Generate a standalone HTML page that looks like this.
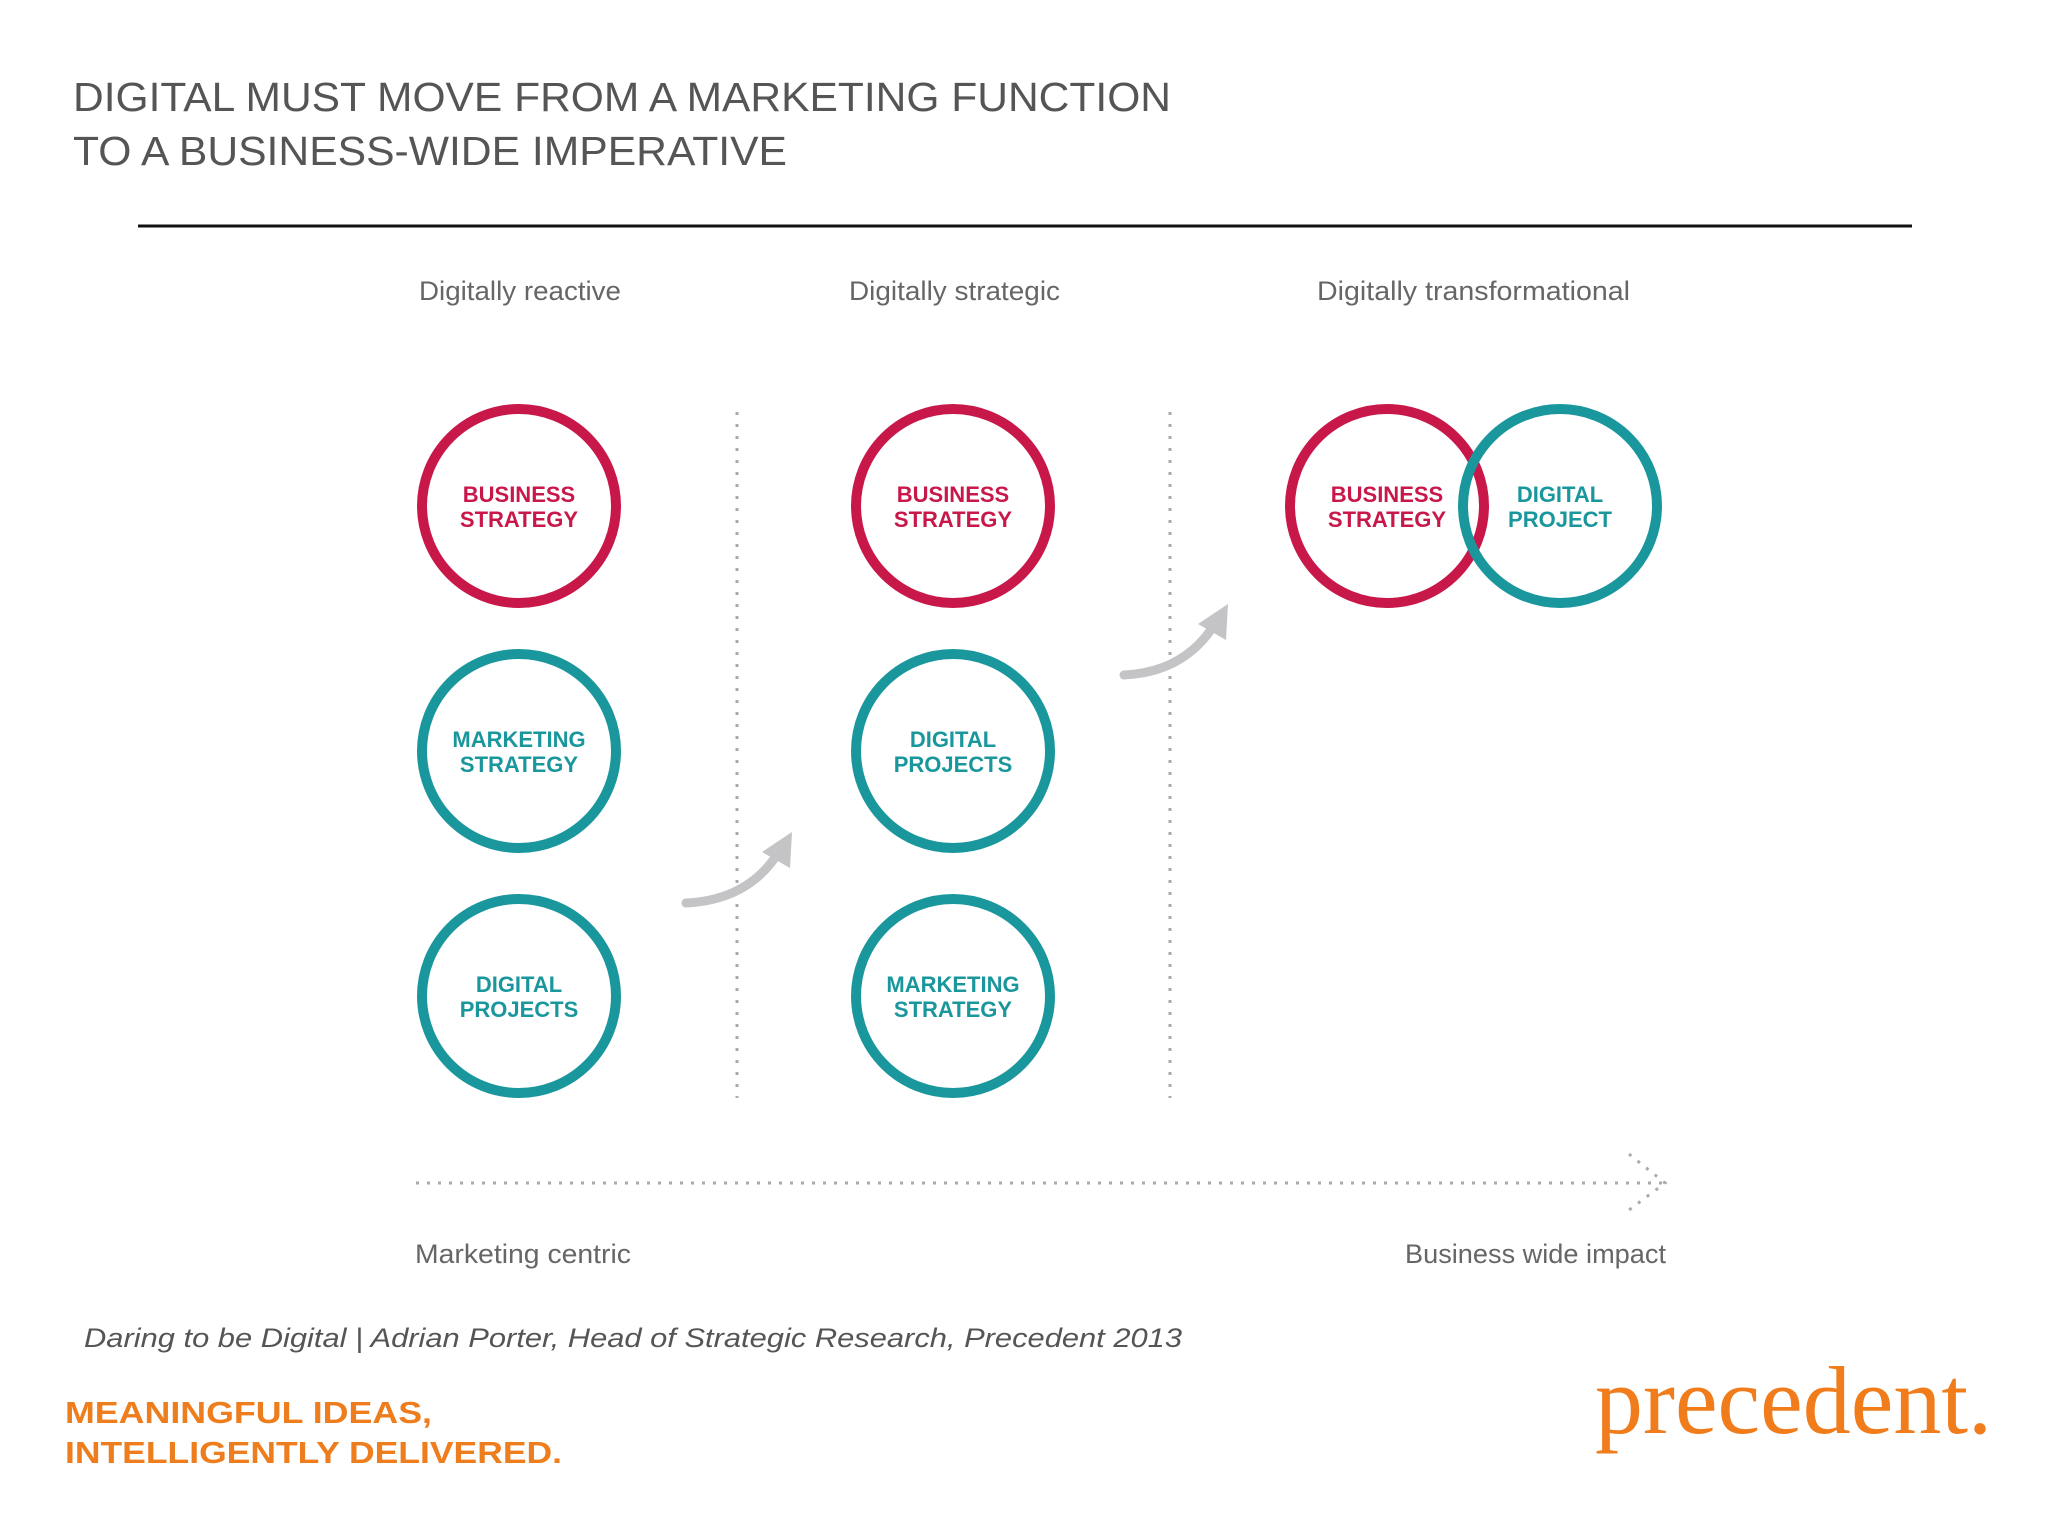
<!DOCTYPE html>
<html><head><meta charset="utf-8"><style>
html,body{margin:0;padding:0;background:#fff;}
svg{display:block;}
</style></head><body>
<svg id="chart" width="2048" height="1536" viewBox="0 0 2048 1536" xmlns="http://www.w3.org/2000/svg" font-family="Liberation Sans, sans-serif">
<g fill="#555">
<text x="73" y="111" font-size="41" textLength="1098" lengthAdjust="spacingAndGlyphs">DIGITAL MUST MOVE FROM A MARKETING FUNCTION</text>
<text x="73" y="165" font-size="41" textLength="714" lengthAdjust="spacingAndGlyphs">TO A BUSINESS-WIDE IMPERATIVE</text>
</g>
<line x1="138" y1="226" x2="1912" y2="226" stroke="#111" stroke-width="3"/>
<g fill="#666" font-size="27">
<text x="419" y="300" textLength="202" lengthAdjust="spacingAndGlyphs">Digitally reactive</text>
<text x="849" y="300" textLength="211" lengthAdjust="spacingAndGlyphs">Digitally strategic</text>
<text x="1317" y="300" textLength="313" lengthAdjust="spacingAndGlyphs">Digitally transformational</text>
</g>
<g stroke="#aaa" stroke-width="3" stroke-dasharray="3 9">
<line x1="737" y1="412" x2="737" y2="1098"/>
<line x1="1170" y1="412" x2="1170" y2="1098"/>
</g>
<g id="circles"></g>
<g fill="none" stroke="#c4c4c6" stroke-width="9" stroke-linecap="round">
<path d="M686 903 Q750 900 780 850"/>
<polygon points="792,832 762,852 790,868" fill="#c4c4c6" stroke="none"/>
<path d="M1124 675 Q1186 672 1216 622"/>
<polygon points="1228,604 1198,624 1226,640" fill="#c4c4c6" stroke="none"/>
</g>
<g stroke="#aaa" stroke-width="3" stroke-dasharray="3 8" fill="none">
<line x1="416" y1="1183" x2="1665" y2="1183"/>
<polyline points="1629,1154 1665,1183 1629,1210"/>
</g>
<g fill="#666" font-size="27">
<text x="415" y="1263" textLength="216" lengthAdjust="spacingAndGlyphs">Marketing centric</text>
<text x="1405" y="1263" textLength="261" lengthAdjust="spacingAndGlyphs">Business wide impact</text>
</g>
<text x="84" y="1347" font-size="27" font-style="italic" fill="#555" textLength="1098" lengthAdjust="spacingAndGlyphs">Daring to be Digital | Adrian Porter, Head of Strategic Research, Precedent 2013</text>
<g fill="#ee7d1e" font-weight="bold" font-size="31">
<text x="65" y="1423" textLength="367" lengthAdjust="spacingAndGlyphs">MEANINGFUL IDEAS,</text>
<text x="65" y="1463" textLength="497" lengthAdjust="spacingAndGlyphs">INTELLIGENTLY DELIVERED.</text>
</g>
<text x="1595" y="1433" font-family="Liberation Serif, serif" font-size="96" fill="#f07c1c" textLength="397" lengthAdjust="spacingAndGlyphs">precedent.</text>
</svg>
<script>
const labelsTop = ["BUSINESS","BUSINESS","MARKETING","DIGITAL","DIGITAL","MARKETING","BUSINESS","DIGITAL"];
const labelsBottom = ["STRATEGY","STRATEGY","STRATEGY","PROJECTS","PROJECTS","STRATEGY","STRATEGY","PROJECT"];
const colIndex = [0,1,0,1,0,1,2,3];
const rowIndex = [0,0,1,1,2,2,0,0];
const kinds = ["business","business","marketing","digital","digital","marketing","business","digital"];
const colX = c => [519,953,1387,1560][c];
const rowY = r => 506 + r*245;
const colorOf = k => k==="business" ? "#c8184a" : "#1a979d";
const g = document.getElementById('circles');
const NS = "http://www.w3.org/2000/svg";
for (let i=0;i<labelsTop.length;i++){
  const cx = colX(colIndex[i]), cy = rowY(rowIndex[i]), col = colorOf(kinds[i]);
  const c = document.createElementNS(NS,'circle');
  
  
  c.setAttribute('cx',cx); c.setAttribute('cy',cy); c.setAttribute('r',97);
  c.setAttribute('fill','none'); c.setAttribute('stroke',col); c.setAttribute('stroke-width',10);
  g.appendChild(c);
  [[labelsTop[i],-4],[labelsBottom[i],21]].forEach(([t,dy])=>{
    const tx = document.createElementNS(NS,'text');
    
    
    tx.setAttribute('x',cx); tx.setAttribute('y',cy+dy);
    tx.setAttribute('text-anchor','middle'); tx.setAttribute('font-size','22');
    tx.setAttribute('font-weight','bold'); tx.setAttribute('fill',col);
    tx.textContent = t;
    g.appendChild(tx);
  });
}
</script>
</body></html>
